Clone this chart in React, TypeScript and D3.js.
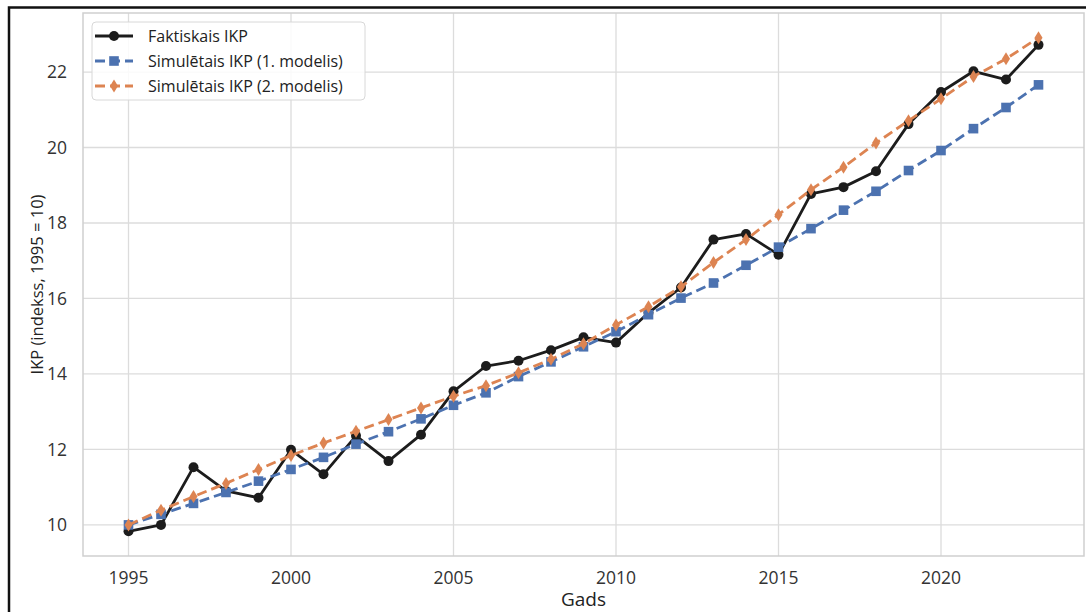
import React, { useEffect, useRef } from 'react';
import * as d3 from 'd3';

const years = d3.range(1995, 2024);

const faktiskais = [
  9.83, 10.0, 11.53, 10.9, 10.72, 11.99, 11.34, 12.36, 11.69, 12.39,
  13.54, 14.21, 14.35, 14.63, 14.97, 14.83, 15.62, 16.29, 17.56, 17.71,
  17.16, 18.77, 18.95, 19.37, 20.62, 21.47, 22.02, 21.8, 22.72,
];

const modelis1 = [
  10.0, 10.28, 10.57, 10.86, 11.16, 11.47, 11.79, 12.14, 12.47, 12.81,
  13.17, 13.5, 13.93, 14.32, 14.72, 15.12, 15.57, 16.01, 16.41, 16.88,
  17.36, 17.85, 18.34, 18.84, 19.39, 19.92, 20.5, 21.06, 21.66,
];

const modelis2 = [
  10.0, 10.39, 10.75, 11.1, 11.47, 11.84, 12.17, 12.48, 12.79, 13.1,
  13.41, 13.69, 14.03, 14.39, 14.8, 15.3, 15.78, 16.31, 16.95, 17.56,
  18.22, 18.88, 19.48, 20.12, 20.71, 21.29, 21.88, 22.35, 22.91,
];

const xTicks = [1995, 2000, 2005, 2010, 2015, 2020];
const yTicks = [10, 12, 14, 16, 18, 20, 22];

const series = [
  { name: 'Faktiskais IKP', values: faktiskais, color: '#1c1c1c', dash: null, marker: 'circle' },
  { name: 'Simulētais IKP (1. modelis)', values: modelis1, color: '#4C72B0', dash: '10,5', marker: 'square' },
  { name: 'Simulētais IKP (2. modelis)', values: modelis2, color: '#DD8452', dash: '10,5', marker: 'diamond' },
];

const W = 1086;
const H = 612;
const margin = { left: 83, right: 2, top: 13, bottom: 56 };
const FONT = '"Open Sans", "DejaVu Sans", sans-serif';

const App = () => {
  const svgRef = useRef<SVGSVGElement>(null);

  useEffect(() => {
    const svg = d3.select(svgRef.current);
    svg.selectAll('*').remove();

    const x0 = margin.left;
    const x1 = W - margin.right;
    const y0 = margin.top;
    const y1 = H - margin.bottom;

    // matplotlib-like 5% padding on each side
    const xPad = (d3.max(years)! - d3.min(years)!) * 0.05;
    const allVals = [...faktiskais, ...modelis1, ...modelis2];
    const yMin = d3.min(allVals)!;
    const yMax = d3.max(allVals)!;
    const yPad = (yMax - yMin) * 0.05;

    const x = d3.scaleLinear()
      .domain([d3.min(years)! - xPad, d3.max(years)! + xPad])
      .range([x0, x1]);
    const y = d3.scaleLinear()
      .domain([yMin - yPad, yMax + yPad])
      .range([y1, y0]);

    // outer black frame (screenshot border)
    svg.append('rect')
      .attr('x', 9)
      .attr('y', 7.5)
      .attr('width', W + 20)
      .attr('height', H + 20)
      .attr('fill', 'none')
      .attr('stroke', '#111')
      .attr('stroke-width', 2.5);

    // grid
    const grid = svg.append('g');
    grid.selectAll('.gx')
      .data(xTicks)
      .enter()
      .append('line')
      .attr('x1', d => x(d))
      .attr('x2', d => x(d))
      .attr('y1', y0)
      .attr('y2', y1)
      .attr('stroke', '#dcdcdc')
      .attr('stroke-width', 1.3);
    grid.selectAll('.gy')
      .data(yTicks)
      .enter()
      .append('line')
      .attr('x1', x0)
      .attr('x2', x1)
      .attr('y1', d => y(d))
      .attr('y2', d => y(d))
      .attr('stroke', '#dcdcdc')
      .attr('stroke-width', 1.3);

    // spines
    svg.append('rect')
      .attr('x', x0)
      .attr('y', y0)
      .attr('width', x1 - x0)
      .attr('height', y1 - y0)
      .attr('fill', 'none')
      .attr('stroke', '#cfcfcf')
      .attr('stroke-width', 1.5);

    // tick labels
    svg.append('g').selectAll('text')
      .data(xTicks)
      .enter()
      .append('text')
      .attr('x', d => x(d))
      .attr('y', 584)
      .attr('text-anchor', 'middle')
      .style('font-family', FONT)
      .style('font-size', '17.5px')
      .style('fill', '#333')
      .text(d => d);

    svg.append('g').selectAll('text')
      .data(yTicks)
      .enter()
      .append('text')
      .attr('x', 67)
      .attr('y', d => y(d))
      .attr('dy', '0.35em')
      .attr('text-anchor', 'end')
      .style('font-family', FONT)
      .style('font-size', '17.5px')
      .style('fill', '#333')
      .text(d => d);

    // axis labels
    svg.append('text')
      .attr('x', (x0 + x1) / 2)
      .attr('y', 606)
      .attr('text-anchor', 'middle')
      .style('font-family', FONT)
      .style('font-size', '19px')
      .style('fill', '#222')
      .text('Gads');

    svg.append('text')
      .attr('transform', `translate(37, ${(y0 + y1) / 2}) rotate(-90)`)
      .attr('text-anchor', 'middle')
      .attr('dy', '0.35em')
      .style('font-family', FONT)
      .style('font-size', '16.5px')
      .style('fill', '#222')
      .text('IKP (indekss, 1995 = 10)');

    const drawMarker = (g, kind, color, cx, cy) => {
      if (kind === 'circle') {
        g.append('circle').attr('cx', cx).attr('cy', cy).attr('r', 5).attr('fill', color);
      } else if (kind === 'square') {
        g.append('rect').attr('x', cx - 4.8).attr('y', cy - 4.8).attr('width', 9.6).attr('height', 9.6).attr('fill', color);
      } else {
        g.append('path')
          .attr('d', `M${cx},${cy - 6.5} L${cx + 4},${cy} L${cx},${cy + 6.5} L${cx - 4},${cy} Z`)
          .attr('fill', color);
      }
    };

    const line = d3.line<number>()
      .x((d, i) => x(years[i]))
      .y(d => y(d));

    series.forEach(s => {
      const g = svg.append('g');
      g.append('path')
        .attr('d', line(s.values))
        .attr('fill', 'none')
        .attr('stroke', s.color)
        .attr('stroke-width', 2.8)
        .attr('stroke-linejoin', 'round')
        .attr('stroke-dasharray', s.dash);
      s.values.forEach((v, i) => drawMarker(g, s.marker, s.color, x(years[i]), y(v)));
    });

    // legend
    const legend = svg.append('g');
    legend.append('rect')
      .attr('x', 92)
      .attr('y', 22)
      .attr('width', 273)
      .attr('height', 78)
      .attr('rx', 4)
      .attr('fill', 'white')
      .attr('fill-opacity', 0.85)
      .attr('stroke', '#d8d8d8')
      .attr('stroke-width', 1);

    series.forEach((s, i) => {
      const cy = 36 + i * 25;
      legend.append('line')
        .attr('x1', 95)
        .attr('x2', 133)
        .attr('y1', cy)
        .attr('y2', cy)
        .attr('stroke', s.color)
        .attr('stroke-width', 2.8)
        .attr('stroke-dasharray', s.dash);
      drawMarker(legend, s.marker, s.color, 114, cy);
      legend.append('text')
        .attr('x', 148)
        .attr('y', cy)
        .attr('dy', '0.35em')
        .style('font-family', FONT)
        .style('font-size', '16px')
        .style('fill', '#222')
        .text(s.name);
    });
  }, []);

  return (
    <div style={{ position: 'absolute', left: 0, top: 0, width: W, height: H, background: 'white' }}>
      <svg ref={svgRef} width={W} height={H}></svg>
    </div>
  );
};

export default App;
